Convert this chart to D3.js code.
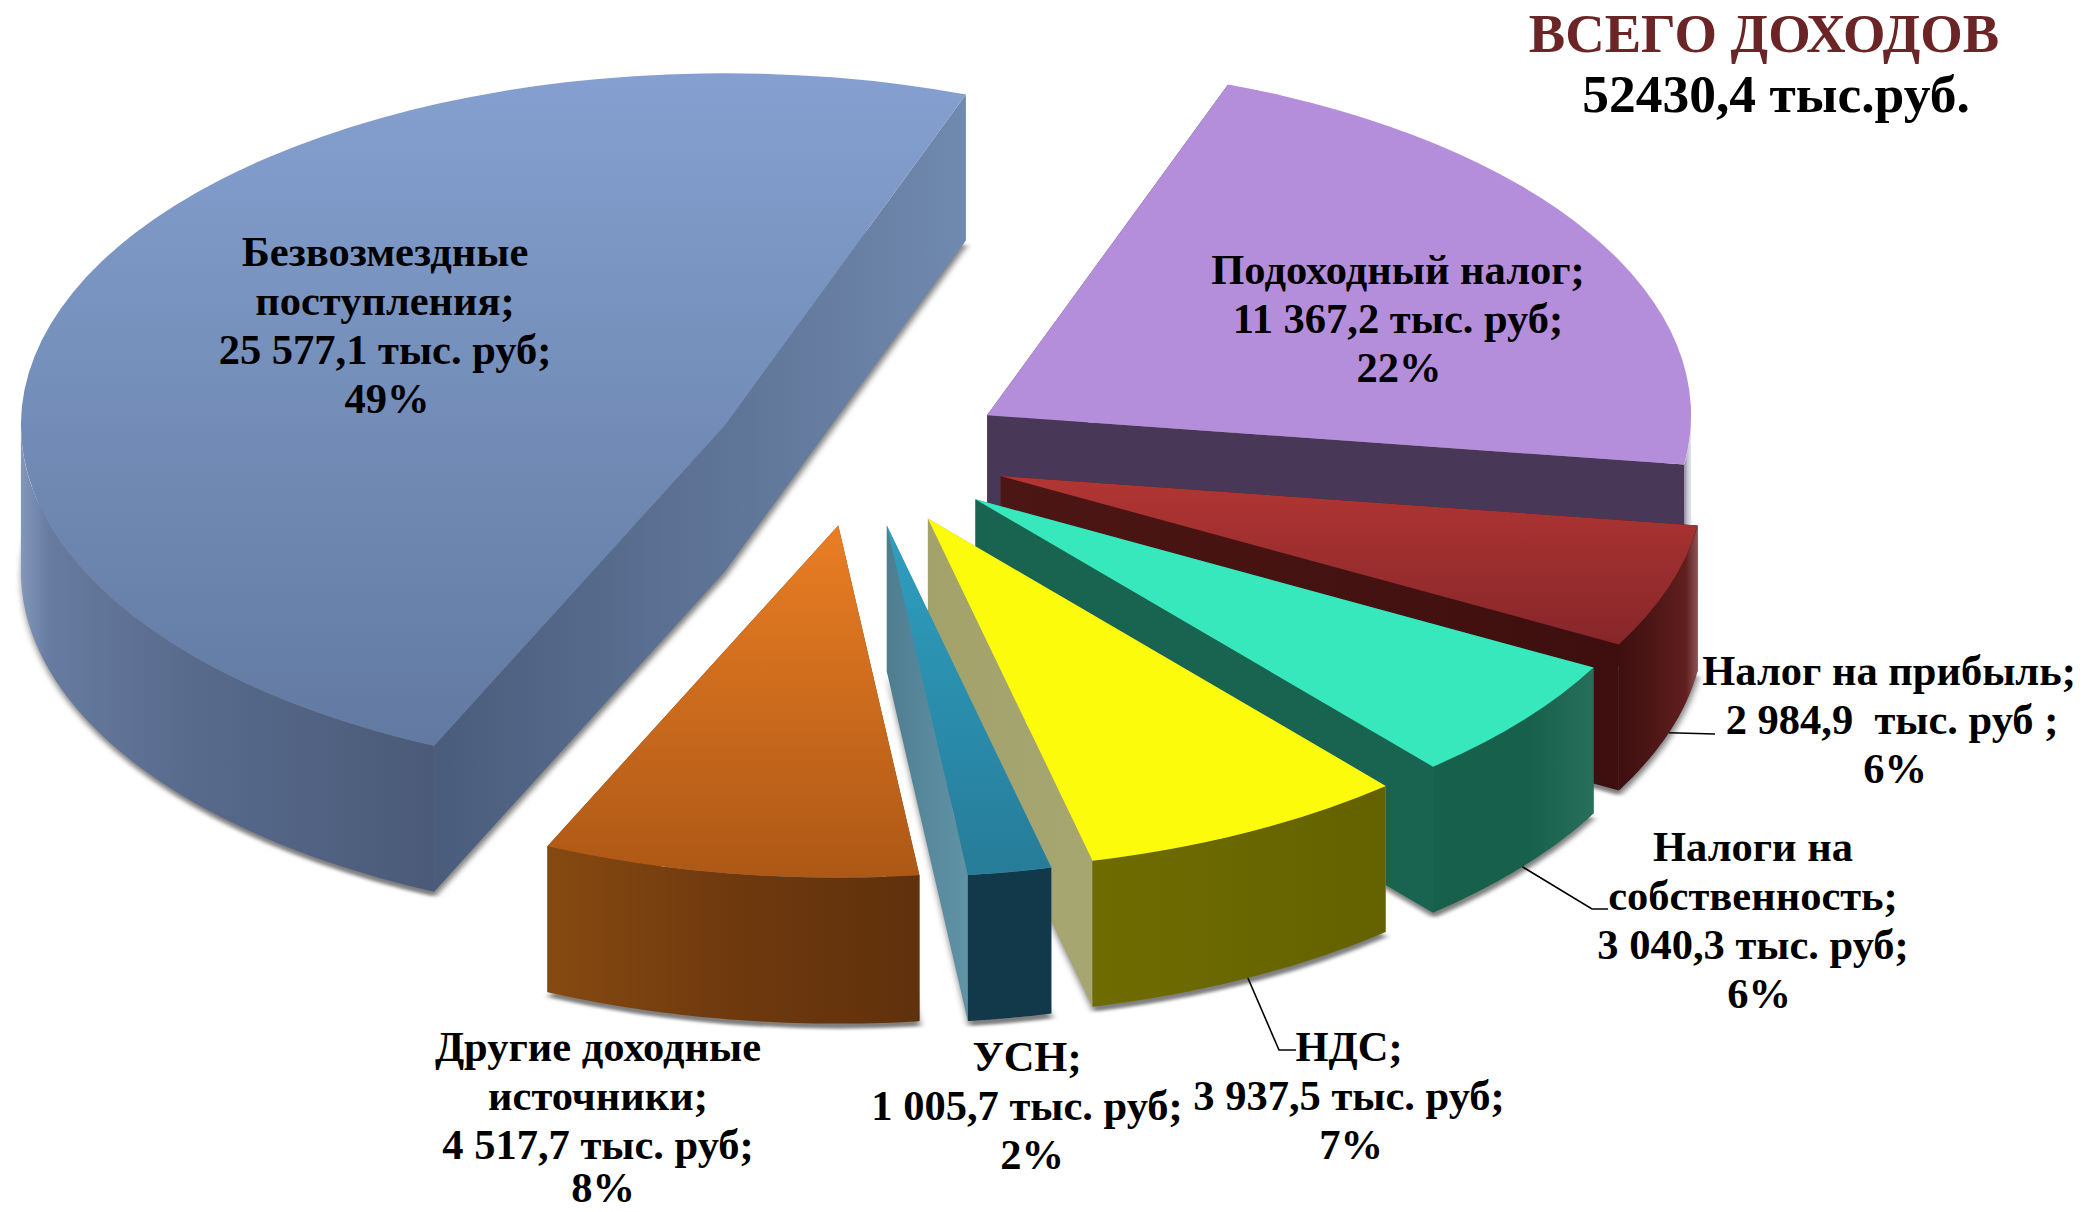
<!DOCTYPE html>
<html>
<head>
<meta charset="utf-8">
<script src="https://cdn.jsdelivr.net/npm/d3@7"></script>
<style>
    html, body { margin: 0; padding: 0; background: #fff; }
    text { font-family: "Liberation Serif", serif; font-weight: bold; white-space: pre; text-anchor: middle; }
</style>
</head>
<body>
<div id="chart"></div>
<script>
// data, clockwise from the lower left edge of the big slice
var categories = [
    ["Безвозмездные", "поступления;"],
    ["Подоходный налог;"],
    ["Налог на прибыль;"],
    ["Налоги на", "собственность;"],
    ["НДС;"],
    ["УСН;"],
    ["Другие доходные", "источники;"]
];
var values = [25577.1, 11367.2, 2984.9, 3040.3, 3937.5, 1005.7, 4517.7];
var amountLabels = ["25 577,1 тыс. руб;", "11 367,2 тыс. руб;", "2 984,9  тыс. руб ;", "3 040,3 тыс. руб;", "3 937,5 тыс. руб;", "1 005,7 тыс. руб;", "4 517,7 тыс. руб;"];
var percentLabels = ["49%", "22%", "6%", "6%", "7%", "2%", "8%"];
var titleLines = ["ВСЕГО ДОХОДОВ", "52430,4 тыс.руб."];

// colours per slice
var topColors = [["#85a0d0", "#627aa1"], ["#b58edb", "#b58edb"], ["#b23633", "#86262a"], ["#37e8bc", "#37e8bc"], ["#fcfb0b", "#fcfb0b"], ["#2f9fc0", "#267c99"], ["#ea7e24", "#ad5816"]];
var sideColors = [["#4a5c7c", "#7089ae"], ["#483757", "#483757"], ["#4c1614", "#3c0e0e"], ["#196450", "#196450"], ["#a3a26b", "#adad7a"], ["#4f7d90", "#72aabe"], ["#6b3a10", "#6b3a10"]];
var rimColors = [
    [[0, "#8397bb"], [0.07, "#677ba0"], [0.4, "#586b8d"], [1, "#4a5a78"]],
    [[0, "#8f8a99"], [0.5, "#c5c8d2"], [1, "#e4e6ea"]],
    [[0, "#3e0f0f"], [0.5, "#501717"], [0.85, "#611f1f"], [1, "#8a5555"]],
    [[0, "#17614c"], [0.6, "#17614c"], [1, "#286f5b"]],
    [[0, "#6e6c00"], [1, "#646200"]],
    [[0, "#12394a"], [1, "#12394a"]],
    [[0, "#864911"], [0.5, "#6f390e"], [1, "#5f310c"]]
];

// layout
var width = 2084, height = 1212;
var centerX = 861, centerY = 453;
var radius = 704, tilt = 0.5, depth = 146, explode = 147;
var firstAngle = 204.4 * Math.PI / 180;
var lineHeight = 49;
var labelX = [385, 1398, 1889, 1753, 1349, 1027, 598];
var labelY = [252, 270, 671, 847, 1047, 1057, 1047];
var percentDx = [2, 1, 6, 6, 2, 5, 5];
var percentDy = [0, 0, 0, 0, 0, 0, -6];
var amountDx = [0, 0, 3, 0, 0, 0, 0];
var leaderBends = [null, null, [[1715, 734]], [[1592, 909], [1608, 909]], [[1279, 1050], [1296, 1050]], null, null];

var svg = d3.select("#chart").append("svg").attr("width", width).attr("height", height);
var defs = svg.append("defs");

defs.append("filter").attr("id", "soft")
    .attr("x", "-5%").attr("y", "-5%").attr("width", "110%").attr("height", "110%")
    .append("feGaussianBlur").attr("stdDeviation", 3.5);

function addGradient(id, stops, vertical) {
    var grad = defs.append("linearGradient").attr("id", id)
        .attr("x1", 0).attr("y1", 0)
        .attr("x2", vertical ? 0 : 1).attr("y2", vertical ? 1 : 0);
    stops.forEach(function (s) {
        grad.append("stop").attr("offset", s[0]).attr("stop-color", s[1]);
    });
}

function twoStops(colors) {
    return [[0, colors[0]], [1, colors[1]]];
}

var pie = d3.pie().sort(null)
    .startAngle(firstAngle)
    .endAngle(firstAngle + 2 * Math.PI);

var arc = d3.arc().innerRadius(0).outerRadius(radius);
var line = d3.line();

var slices = pie(values).map(function (d, i) {
    var mid = (d.startAngle + d.endAngle) / 2;
    d.index = i;
    d.mid = mid;
    d.ox = centerX + explode * Math.sin(mid);
    d.oy = centerY - explode * Math.cos(mid) * tilt;
    return d;
});

function rimPoint(d, a, drop) {
    return [d.ox + radius * Math.sin(a), d.oy - radius * tilt * Math.cos(a) + drop];
}

function radialWall(d, a) {
    return line([[d.ox, d.oy], rimPoint(d, a, 0), rimPoint(d, a, depth), [d.ox, d.oy + depth]]) + "Z";
}

// only the part of the rim that faces the viewer, PI/2 .. 3PI/2 (angles past one turn wrap around)
function rimWall(d) {
    var wrap = d.startAngle >= 2 * Math.PI ? 2 * Math.PI : 0;
    var from = Math.max(d.startAngle - wrap, Math.PI / 2), to = Math.min(d.endAngle - wrap, 3 * Math.PI / 2);
    if (to <= from) return null;
    var steps = d3.range(0, 41).map(function (k) { return from + (to - from) * k / 40; });
    var upper = steps.map(function (a) { return rimPoint(d, a, 0); });
    var lower = steps.slice().reverse().map(function (a) { return rimPoint(d, a, depth); });
    return line(upper.concat(lower)) + "Z";
}

slices.forEach(function (d) {
    addGradient("top" + d.index, twoStops(topColors[d.index]), true);
    addGradient("side" + d.index, twoStops(sideColors[d.index]), false);
    addGradient("rim" + d.index, rimColors[d.index], false);
});

var slice = svg.selectAll(".slice")
    .data(slices)
    .enter().append("g")
    .attr("class", "slice");

// soft shadow lying on the floor under each slice
slice.append("path")
    .attr("transform", function (d) { return "translate(" + (d.ox + 1) + "," + (d.oy + depth + 5) + ") scale(1," + tilt + ")"; })
    .attr("d", arc)
    .attr("fill", "#000")
    .attr("fill-opacity", 0.5)
    .attr("filter", "url(#soft)");

slice.append("path")
    .attr("d", function (d) { return radialWall(d, d.startAngle) + radialWall(d, d.endAngle); })
    .attr("fill", function (d) { return "url(#side" + d.index + ")"; });

slice.filter(function (d) { return rimWall(d) !== null; }).append("path")
    .attr("d", rimWall)
    .attr("fill", function (d) { return "url(#rim" + d.index + ")"; });

slice.append("path")
    .attr("transform", function (d) { return "translate(" + d.ox + "," + d.oy + ") scale(1," + tilt + ")"; })
    .attr("d", arc)
    .attr("fill", function (d) { return "url(#top" + d.index + ")"; });

// leader lines start on the bottom of the rim at the slice middle
slices.forEach(function (d) {
    if (!leaderBends[d.index]) return;
    svg.append("path")
        .attr("d", line([rimPoint(d, d.mid, depth)].concat(leaderBends[d.index])))
        .attr("fill", "none")
        .attr("stroke", "#000")
        .attr("stroke-width", 1.6);
});

var label = svg.selectAll(".label")
    .data(slices)
    .enter().append("text")
    .attr("class", "label")
    .attr("font-size", 42.5)
    .attr("fill", "#000");

label.selectAll("tspan")
    .data(function (d) {
        var i = d.index;
        var rows = categories[i].map(function (t) { return { text: t, dx: 0, dy: 0 }; });
        rows.push({ text: amountLabels[i], dx: amountDx[i], dy: 0 });
        rows.push({ text: percentLabels[i], dx: percentDx[i], dy: percentDy[i] });
        return rows.map(function (r, k) {
            return { text: r.text, x: labelX[i] + r.dx, y: labelY[i] + k * lineHeight + r.dy };
        });
    })
    .enter().append("tspan")
    .attr("x", function (t) { return t.x; })
    .attr("y", function (t) { return t.y; })
    .attr("dy", "0.33em")
    .text(function (t) { return t.text; });

svg.append("text").attr("x", 1764).attr("y", 52).attr("font-size", 54.6).attr("fill", "#6b2526").text(titleLines[0]);
svg.append("text").attr("x", 1776).attr("y", 112).attr("font-size", 53.5).attr("fill", "#000").text(titleLines[1]);
</script>
</body>
</html>
